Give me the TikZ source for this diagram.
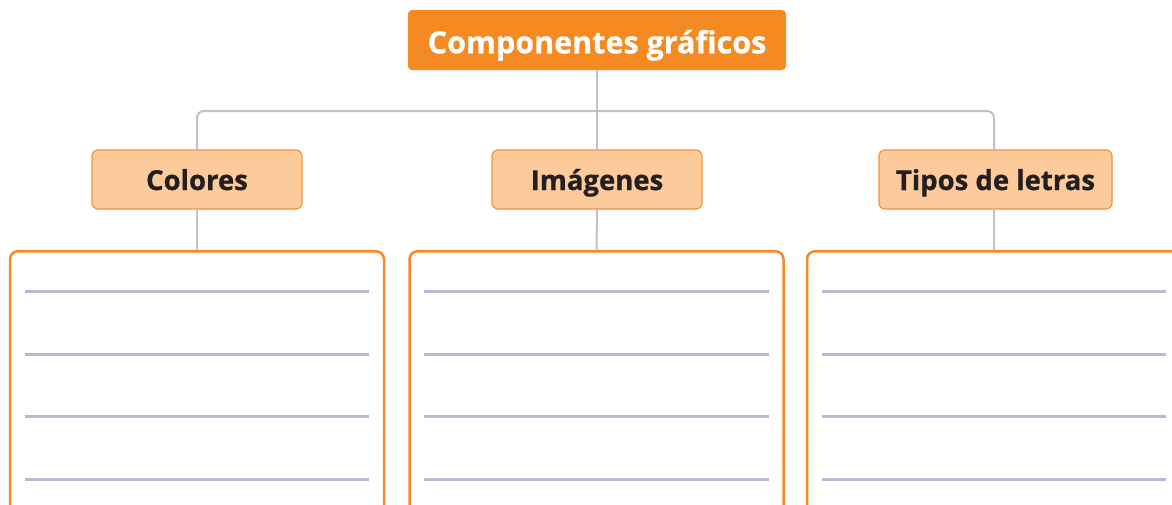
\documentclass[tikz,border=0pt]{standalone}
\usepackage{fontspec}
\setmainfont{Open Sans}[BoldFeatures={FakeBold=0.8}]
\definecolor{orangeA}{HTML}{F58A23}
\definecolor{orangeB}{HTML}{F5913A}
\definecolor{peach}{HTML}{FDCB9B}
\definecolor{greyline}{HTML}{C2C2C6}
\definecolor{lav}{HTML}{C3B4D7}
\definecolor{ink}{HTML}{231F20}
\begin{document}
\begin{tikzpicture}[x=1pt,y=-1pt,
  titlebox/.style={fill=orangeA,rounded corners=4pt,minimum width=378pt,minimum height=60pt,inner sep=0pt,
    text height=26.6pt,text depth=0pt,
    font=\fontsize{30.5}{34}\selectfont\bfseries,text=white},
  catbox/.style={fill=peach,draw=orangeB,line width=1.2pt,rounded corners=6pt,minimum height=59pt,inner sep=0pt,
    text height=21pt,text depth=0pt,
    font=\fontsize{27.5}{30}\selectfont\bfseries,text=ink},
  bigbox/.style={draw=orangeA,line width=2.5pt,rounded corners=8pt,minimum width=374pt,minimum height=300pt,inner sep=0pt},
  conn/.style={draw=greyline,line width=2pt},
  ruled/.style={draw=lav,line width=3pt}]
\useasboundingbox (0,0) rectangle (1172,504);
\clip (0,0) rectangle (1172,504);
\node[titlebox] (title) at (597,40) {Componentes gráficos};
\node[catbox,minimum width=210pt] (col) at (197,179.5) {Colores};
\node[catbox,minimum width=210pt] (img) at (597,179.5) {Imágenes};
\node[catbox,minimum width=233pt] (tip) at (995.5,179.5) {Tipos de letras};
\node[bigbox,anchor=north] (b1) at (197,250) {};
\node[bigbox,anchor=north] (b2) at (596.5,250) {};
\node[bigbox,anchor=north] (b3) at (994,250) {};
\coordinate (hub) at (597,111);
\path[conn] (title.south) -- (img.north);
\path[conn,rounded corners=7pt] (col.north) |- (hub) -| (tip.north -| b3.north);
\path[conn] (col.south) -- (b1.north);
\path[conn] (img.south) -- (b2.north);
\path[conn] (tip.south -| b3.north) -- (b3.north);
\foreach \b in {b1,b2,b3}{
  \foreach \dy in {41,104,166,229}{
    \path[ruled] ([xshift=16pt,yshift=-\dy pt]\b.north west) -- ([xshift=-16pt,yshift=-\dy pt]\b.north east);
  }
}
\end{tikzpicture}
\end{document}
